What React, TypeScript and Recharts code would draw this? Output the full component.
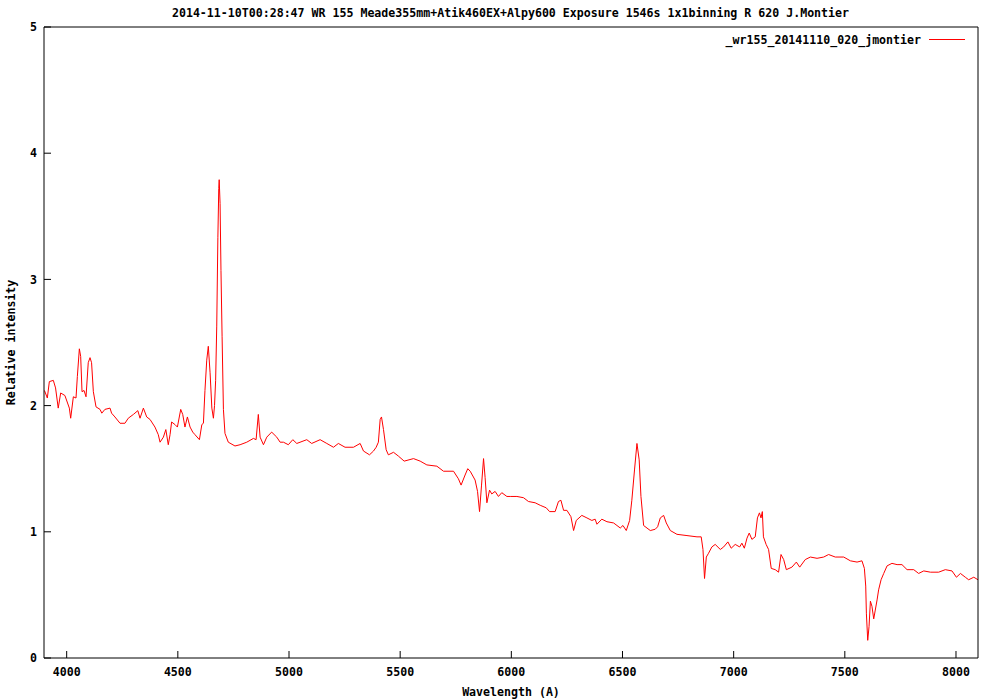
import { LineChart, Line, XAxis, YAxis, Legend, Label } from 'recharts'

const wavelength = [
  3900, 3913, 3922, 3940, 3950, 3962, 3973, 3992, 4012, 4018, 4030, 4042, 4048, 4057, 4063, 4069, 4078, 4087, 4097, 4105,
  4112, 4120, 4132, 4150, 4158, 4172, 4195, 4202, 4217, 4240, 4262, 4277, 4300, 4320, 4330, 4345, 4360, 4375, 4397, 4412,
  4420, 4435, 4446, 4457, 4465, 4472, 4487, 4498, 4513, 4522, 4532, 4543, 4555, 4567, 4577, 4597, 4608, 4615, 4622, 4630,
  4637, 4645, 4653, 4660, 4665, 4670, 4675, 4680, 4684, 4686, 4690, 4694, 4699, 4705, 4712, 4727, 4757, 4780, 4810, 4840,
  4852, 4862, 4870, 4885, 4900, 4922, 4945, 4960, 4975, 4997, 5017, 5035, 5080, 5102, 5140, 5170, 5200, 5222, 5252, 5290,
  5320, 5335, 5362, 5380, 5392, 5402, 5410, 5416, 5425, 5437, 5447, 5470, 5492, 5518, 5560, 5590, 5620, 5665, 5695, 5740,
  5762, 5774, 5792, 5804, 5815, 5837, 5848, 5857, 5866, 5875, 5882, 5890, 5902, 5912, 5927, 5942, 5957, 5980, 5995, 6025,
  6055, 6077, 6107, 6130, 6157, 6172, 6197, 6212, 6223, 6235, 6250, 6268, 6280, 6292, 6317, 6340, 6362, 6377, 6385, 6407,
  6430, 6460, 6490, 6502, 6517, 6532, 6542, 6554, 6565, 6575, 6583, 6595, 6625, 6647, 6658, 6670, 6685, 6697, 6715, 6745,
  6790, 6835, 6854, 6862, 6869, 6877, 6887, 6902, 6917, 6940, 6955, 6974, 6989, 7007, 7027, 7037, 7048, 7060, 7070, 7082,
  7097, 7107, 7116, 7123, 7129, 7134, 7146, 7157, 7169, 7187, 7202, 7213, 7225, 7237, 7262, 7282, 7297, 7322, 7345, 7375,
  7405, 7427, 7457, 7495, 7525, 7555, 7577, 7588, 7594, 7597, 7603, 7609, 7615, 7622, 7630, 7637, 7645, 7652, 7663, 7675,
  7690, 7712, 7735, 7757, 7780, 7810, 7832, 7855, 7885, 7922, 7952, 7982, 8002, 8020, 8042, 8057, 8080, 8099,
]

const intensity = [
  2.12, 2.06, 2.19, 2.2, 2.14, 1.98, 2.1, 2.08, 1.98, 1.9, 2.07, 2.06, 2.23, 2.45, 2.39, 2.11, 2.12, 2.07, 2.34, 2.38,
  2.34, 2.11, 1.99, 1.97, 1.94, 1.97, 1.98, 1.94, 1.91, 1.86, 1.86, 1.9, 1.93, 1.96, 1.9, 1.98, 1.91, 1.89, 1.83, 1.77,
  1.71, 1.75, 1.81, 1.69, 1.77, 1.87, 1.85, 1.83, 1.97, 1.93, 1.83, 1.91, 1.83, 1.79, 1.77, 1.73, 1.85, 1.86, 2.12, 2.36,
  2.47, 2.26, 1.98, 1.9, 2.0, 2.2, 2.63, 3.33, 3.72, 3.79, 3.6, 3.07, 2.55, 1.97, 1.78, 1.71, 1.68, 1.69, 1.71, 1.74,
  1.73, 1.93, 1.75, 1.69, 1.75, 1.79, 1.75, 1.71, 1.71, 1.69, 1.73, 1.7, 1.73, 1.7, 1.73, 1.7, 1.67, 1.7, 1.67, 1.67,
  1.7, 1.64, 1.61, 1.64, 1.67, 1.71, 1.89, 1.91, 1.81, 1.65, 1.61, 1.63, 1.6, 1.56, 1.58, 1.56, 1.53, 1.52, 1.48, 1.48,
  1.42, 1.37, 1.45, 1.5, 1.48, 1.41, 1.32, 1.16, 1.37, 1.58, 1.43, 1.23, 1.33, 1.3, 1.32, 1.28, 1.31, 1.28, 1.28, 1.28,
  1.27, 1.24, 1.23, 1.21, 1.19, 1.16, 1.16, 1.24, 1.25, 1.17, 1.17, 1.12, 1.01, 1.09, 1.13, 1.11, 1.09, 1.1, 1.06, 1.1,
  1.08, 1.07, 1.03, 1.05, 1.01, 1.09, 1.25, 1.49, 1.7, 1.57, 1.28, 1.05, 1.01, 1.02, 1.04, 1.11, 1.13, 1.07, 1.01, 0.98,
  0.97, 0.96, 0.96, 0.86, 0.63, 0.8, 0.83, 0.88, 0.9, 0.86, 0.88, 0.92, 0.87, 0.9, 0.88, 0.91, 0.87, 0.95, 0.99, 0.94,
  0.96, 1.11, 1.15, 1.11, 1.16, 0.96, 0.9, 0.86, 0.71, 0.7, 0.68, 0.82, 0.78, 0.7, 0.72, 0.76, 0.72, 0.78, 0.8, 0.79,
  0.8, 0.82, 0.8, 0.8, 0.77, 0.76, 0.77, 0.71, 0.57, 0.35, 0.14, 0.25, 0.45, 0.41, 0.31, 0.38, 0.46, 0.54, 0.62, 0.67,
  0.73, 0.75, 0.74, 0.74, 0.7, 0.7, 0.67, 0.69, 0.68, 0.68, 0.7, 0.69, 0.64, 0.67, 0.64, 0.62, 0.64, 0.62,
]

const xTicks = [4000, 4500, 5000, 5500, 6000, 6500, 7000, 7500, 8000]
const yTicks = [0, 1, 2, 3, 4, 5]

const seriesName = '_wr155_20141110_020_jmontier'
const title =
  '2014-11-10T00:28:47 WR 155 Meade355mm+Atik460EX+Alpy600 Exposure 1546s 1x1binning R 620 J.Montier'

const FONT = '"DejaVu Sans Mono", monospace'
const tickStyle = { fontSize: 11.6, fontFamily: FONT, fontWeight: 'bold', fill: '#000' }

const data = wavelength.map((w, i) => ({ w, v: intensity[i] }))

const renderLegend = () => (
  <div style={{ position: 'relative', height: 16 }}>
    <span
      style={{
        position: 'absolute',
        right: 1000 - 921,
        top: 0,
        font: `bold 11.6px ${FONT}`,
        color: '#000',
        whiteSpace: 'pre',
      }}
    >
      {seriesName}
    </span>
    <div
      style={{ position: 'absolute', left: 929, top: 6, width: 36, height: 1, background: '#ff0000' }}
    />
  </div>
)

export default function App() {
  return (
    <div style={{ position: 'absolute', left: 0, top: 0, width: 1000, height: 700, background: '#fff' }}>
      <div
        style={{
          position: 'absolute',
          left: 0,
          width: 1021,
          top: 6,
          textAlign: 'center',
          font: `bold 11.6px ${FONT}`,
          whiteSpace: 'pre',
          zIndex: 2,
        }}
      >
        {title}
      </div>
      <LineChart width={1000} height={700} data={data} margin={{ top: 0, right: 0, bottom: 0, left: 0 }}>
        <XAxis
          dataKey="w"
          type="number"
          domain={[3898, 8099]}
          ticks={xTicks}
          allowDataOverflow
          height={42}
          stroke="#000"
          tickSize={-7}
          tickMargin={17}
          tick={tickStyle}
          interval={0}
        >
          <Label
            value="Wavelength (A)"
            position="insideBottom"
            offset={4}
            style={{ fontSize: 11.6, fontFamily: FONT, fontWeight: 'bold', fill: '#000' }}
          />
        </XAxis>
        <XAxis
          xAxisId="top"
          orientation="top"
          dataKey="w"
          type="number"
          domain={[3898, 8099]}
          ticks={xTicks}
          allowDataOverflow
          height={27}
          stroke="#000"
          tickSize={-7}
          tick={false}
        />
        <YAxis
          type="number"
          domain={[0, 5]}
          ticks={yTicks}
          width={44}
          stroke="#000"
          tickSize={-7}
          tickMargin={14}
          tick={tickStyle}
          interval={0}
        >
          <Label
            value="Relative intensity"
            angle={-90}
            position="insideLeft"
            offset={11}
            style={{ fontSize: 11.6, fontFamily: FONT, fontWeight: 'bold', fill: '#000', textAnchor: 'middle' }}
          />
        </YAxis>
        <YAxis
          yAxisId="right"
          orientation="right"
          type="number"
          domain={[0, 5]}
          ticks={yTicks}
          width={22}
          stroke="#000"
          tickSize={-7}
          tick={false}
        />
        <Legend
          layout="vertical"
          align="center"
          verticalAlign="middle"
          content={renderLegend}
          wrapperStyle={{ top: 33, left: 0, width: 1000 }}
        />
        <Line
          type="linear"
          dataKey="v"
          stroke="#ff0000"
          strokeWidth={1}
          dot={false}
          isAnimationActive={false}
        />
      </LineChart>
    </div>
  )
}
